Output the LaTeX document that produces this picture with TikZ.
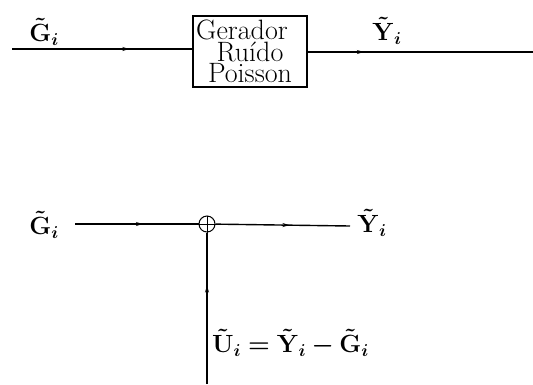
\documentclass[tikz,border=0pt]{standalone}
\usepackage{bm}
\usetikzlibrary{decorations.markings,arrows.meta}
\tikzset{
  lbl/.style={inner sep=0pt, font=\fontsize{24}{24}\selectfont},
  sig/.style={line width=1.4pt, postaction={decorate},
    decoration={markings, mark=at position #1 with {\arrow{Stealth[length=7pt,width=4pt]}}}},
  blockbox/.style={draw, line width=1.1pt, minimum width=114pt, minimum height=71pt, inner sep=0pt, align=center,
    font=\fontsize{28}{21.5}\selectfont},
  sumnode/.style={draw, circle, line width=1pt, minimum size=16pt, inner sep=0pt}
}
\begin{document}
\begin{tikzpicture}[x=1pt,y=-1pt]
\useasboundingbox (0,0) rectangle (533,384);
% top diagram
\coordinate (gin) at (12,49);
\node[blockbox] (gen) at (250,51.5) {Gerador\hspace*{16pt}\\Ruído\hspace*{18pt}\\Poisson};
\coordinate (yout) at (533,52);
\draw[sig=0.65] (gin) -- (gen.west |- gin);
\draw[sig=0.25] (gen.east |- yout) -- (yout);
\node[lbl] (lg1) at (44,32) {$\bm{\tilde{\mathrm{G}}_i}$};
\node[lbl] (ly1) at (387,31) {$\bm{\tilde{\mathrm{Y}}_i}$};
% bottom diagram
\coordinate (gin2) at (75,224);
\node[sumnode] (sum) at (207,224) {};
\coordinate (yout2) at (350,226);
\coordinate (uin) at (207,384);
\draw[line width=1pt] (sum.north) -- (sum.south) (sum.west) -- (sum.east);
\draw[sig=0.55] (gin2) -- (sum);
\draw[sig=0.55] (sum) -- (yout2);
\draw[sig=0.65] (uin) -- (sum);
\node[lbl] (lg2) at (44,225) {$\bm{\tilde{\mathrm{G}}_i}$};
\node[lbl] (ly2) at (372,223) {$\bm{\tilde{\mathrm{Y}}_i}$};
\node[lbl,anchor=west] (lu) at (212,343) {$\bm{\tilde{\mathrm{U}}_i=\tilde{\mathrm{Y}}_i-\tilde{\mathrm{G}}_i}$};
\end{tikzpicture}
\end{document}
